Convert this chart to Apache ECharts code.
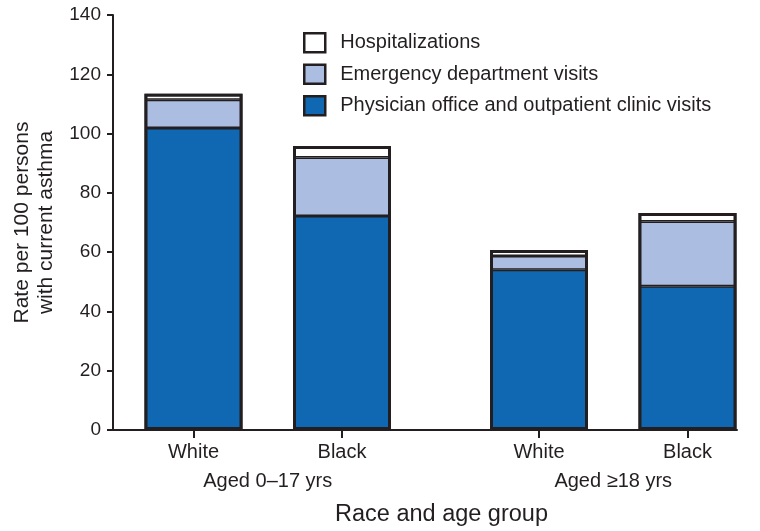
<!DOCTYPE html>
<html>
<head>
<meta charset="utf-8">
<script src="https://cdn.jsdelivr.net/npm/echarts@6/dist/echarts.min.js"></script>
<style>html,body{margin:0;padding:0;background:#fff}#c{width:760px;height:531px}</style>
</head>
<body>
<div id="c"></div>
<script>
// ---- data ----
const categories = ['White', 'Black', 'White', 'Black'];
const groups = ['Aged 0\u201317 yrs', 'Aged \u226518 yrs'];
const physician = [101.9, 72.2, 54.1, 48.5];
const emergency = [9.5, 19.7, 4.6, 21.8];
const hospital = [2.0, 3.9, 2.0, 2.9];
const yTicks = [0, 20, 40, 60, 80, 100, 120, 140];

// ---- layout helpers ----
const groupStep = 1 + 197 / 148.5;
const pos = categories.map((c, i) => Math.floor(i / 2) * groupStep + (i % 2));
const groupPos = groups.map((g, k) => (pos[2 * k] + pos[2 * k + 1]) / 2);
const xMin = -80.5 / 148.5;
const xMax = xMin + 624 / 148.5;
const ink = '#231f20';
const font = 'Liberation Sans, Arial, Helvetica, sans-serif';
const totals = physician.map((v, i) => v + emergency[i] + hospital[i]);

function nearest(arr, v) {
  let b = 0;
  arr.forEach((p, i) => { if (Math.abs(p - v) < Math.abs(arr[b] - v)) b = i; });
  return b;
}
// value first (dimension 0 is the stacked one), position second
const mk = vals => vals.map((v, i) => [v, pos[i]]);

const chart = echarts.init(document.getElementById('c'), null, { renderer: 'canvas' });
const barCommon = {
  type: 'bar', stack: 'total', barWidth: 98, barGap: '-100%',
  encode: { x: 1, y: 0 },
  emphasis: { disabled: true }
};
chart.setOption({
  animation: false,
  textStyle: { fontFamily: font, color: ink },
  grid: { left: 113, right: 23, top: 15, bottom: 101, containLabel: false },
  legend: {
    orient: 'vertical', left: 298, top: 27,
    icon: 'rect',
    itemWidth: 21, itemHeight: 19, itemGap: 10,
    itemStyle: { borderWidth: 2.5, borderColor: ink },
    data: ['Hospitalizations', 'Emergency department visits', 'Physician office and outpatient clinic visits'],
    textStyle: { fontSize: 20, color: ink, fontFamily: font, padding: [0, 0, 0, 10] },
    selectedMode: false
  },
  xAxis: [{
    type: 'value', min: xMin, max: xMax,
    splitLine: { show: false },
    axisLine: { show: true, onZero: false, lineStyle: { color: ink, width: 2 } },
    axisTick: { show: true, customValues: pos, length: 8, lineStyle: { color: ink, width: 2 } },
    axisLabel: {
      customValues: pos, margin: 12, fontSize: 20, color: ink, fontFamily: font,
      formatter: v => categories[nearest(pos, v)]
    }
  }, {
    type: 'value', min: xMin, max: xMax, position: 'bottom',
    splitLine: { show: false },
    axisLine: { show: false }, axisTick: { show: false },
    axisLabel: {
      customValues: groupPos, margin: 41, fontSize: 20, color: ink, fontFamily: font,
      formatter: v => groups[nearest(groupPos, v)]
    }
  }],
  yAxis: {
    type: 'value', min: 0, max: 140, interval: 20,
    splitLine: { show: false },
    axisLine: { show: true, onZero: false, lineStyle: { color: ink, width: 2 } },
    axisTick: { show: true, length: 6, lineStyle: { color: ink, width: 2 } },
    axisLabel: { margin: 12, fontSize: 19, color: ink, fontFamily: font,
      formatter: v => yTicks.includes(v) ? String(v) : '' },
    name: 'Rate per 100 persons\nwith current asthma',
    nameLocation: 'middle', nameGap: 54,
    nameTextStyle: { fontSize: 21, color: ink, fontFamily: font, lineHeight: 24 }
  },
  graphic: [{
    type: 'text', left: 335, top: 503,
    style: { text: 'Race and age group', fontSize: 23.5, fill: ink, fontFamily: font }
  }],
  series: [
    Object.assign({}, barCommon, { name: 'Physician office and outpatient clinic visits', data: mk(physician),
      itemStyle: { color: '#0f68b1', borderColor: ink, borderWidth: 1.5 } }),
    Object.assign({}, barCommon, { name: 'Emergency department visits', data: mk(emergency),
      itemStyle: { color: '#abbde1', borderColor: ink, borderWidth: 1.5 } }),
    Object.assign({}, barCommon, { name: 'Hospitalizations', data: mk(hospital),
      itemStyle: { color: '#ffffff', borderColor: ink, borderWidth: 1.5 } }),
    Object.assign({}, barCommon, { name: 'outline', stack: 'outline', data: mk(totals), z: 3,
      itemStyle: { color: 'rgba(0,0,0,0)', borderColor: ink, borderWidth: 3 } })
  ]
});
</script>
</body>
</html>
